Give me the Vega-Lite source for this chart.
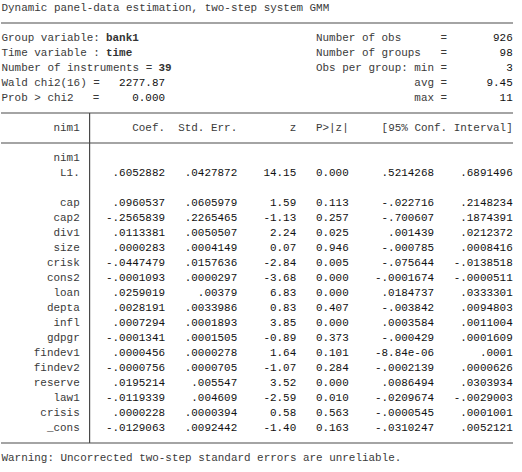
{
  "$schema": "https://vega.github.io/schema/vega-lite/v6.json",
  "description": "Stata output: dynamic panel-data estimation, two-step system GMM (niml).",
  "width": 512,
  "height": 472,
  "padding": 0,
  "background": "white",
  "datasets": {
    "info": [
      {"line": 0, "hcol": 1, "text": "Dynamic panel-data estimation, two-step system GMM"},
      {"line": 2, "hcol": 1, "text": "Group variable:"},
      {"line": 2, "hcol": 3, "text": "bank1"},
      {"line": 3, "hcol": 1, "text": "Time variable :"},
      {"line": 3, "hcol": 3, "text": "time"},
      {"line": 4, "hcol": 1, "text": "Number of instruments ="},
      {"line": 4, "hcol": 4, "text": "39"},
      {"line": 5, "hcol": 1, "text": "Wald chi2(16) ="},
      {"line": 5, "hcol": 5, "text": "2277.87"},
      {"line": 6, "hcol": 1, "text": "Prob > chi2"},
      {"line": 6, "hcol": 2, "text": "="},
      {"line": 6, "hcol": 5, "text": "0.000"},
      {"line": 2, "hcol": 6, "text": "Number of obs"},
      {"line": 2, "hcol": 8, "text": "="},
      {"line": 2, "hcol": 9, "text": "926"},
      {"line": 3, "hcol": 6, "text": "Number of groups"},
      {"line": 3, "hcol": 8, "text": "="},
      {"line": 3, "hcol": 9, "text": "98"},
      {"line": 4, "hcol": 6, "text": "Obs per group: min"},
      {"line": 4, "hcol": 8, "text": "="},
      {"line": 4, "hcol": 9, "text": "3"},
      {"line": 5, "hcol": 7, "text": "avg"},
      {"line": 5, "hcol": 8, "text": "="},
      {"line": 5, "hcol": 9, "text": "9.45"},
      {"line": 6, "hcol": 7, "text": "max"},
      {"line": 6, "hcol": 8, "text": "="},
      {"line": 6, "hcol": 9, "text": "11"},
      {"line": 30, "hcol": 1, "text": "Warning: Uncorrected two-step standard errors are unreliable."}
    ],
    "heads": [
      {"line": 8, "col": 1, "text": "nim1"},
      {"line": 8, "col": 3, "text": "Coef."},
      {"line": 8, "col": 4, "text": "Std. Err."},
      {"line": 8, "col": 5, "text": "z "},
      {"line": 8, "col": 6, "text": "P>|z|"},
      {"line": 8, "col": 8, "text": "[95% Conf. Interval]"},
      {"line": 10, "col": 1, "text": "nim1"},
      {"line": 11, "col": 1, "text": "L1."},
      {"line": 13, "col": 1, "text": "cap"},
      {"line": 14, "col": 1, "text": "cap2"},
      {"line": 15, "col": 1, "text": "div1"},
      {"line": 16, "col": 1, "text": "size"},
      {"line": 17, "col": 1, "text": "crisk"},
      {"line": 18, "col": 1, "text": "cons2"},
      {"line": 19, "col": 1, "text": "loan"},
      {"line": 20, "col": 1, "text": "depta"},
      {"line": 21, "col": 1, "text": "infl"},
      {"line": 22, "col": 1, "text": "gdpgr"},
      {"line": 23, "col": 1, "text": "findev1"},
      {"line": 24, "col": 1, "text": "findev2"},
      {"line": 25, "col": 1, "text": "reserve"},
      {"line": 26, "col": 1, "text": "law1"},
      {"line": 27, "col": 1, "text": "crisis"},
      {"line": 28, "col": 1, "text": "_cons"}
    ],
    "cells": [
      {"line": 11, "col": 3, "text": ".6052882"}, {"line": 11, "col": 4, "text": ".0427872"}, {"line": 11, "col": 5, "text": "14.15"},
      {"line": 11, "col": 6, "text": "0.000"}, {"line": 11, "col": 7, "text": ".5214268"}, {"line": 11, "col": 8, "text": ".6891496"},
      {"line": 13, "col": 3, "text": ".0960537"}, {"line": 13, "col": 4, "text": ".0605979"}, {"line": 13, "col": 5, "text": "1.59"},
      {"line": 13, "col": 6, "text": "0.113"}, {"line": 13, "col": 7, "text": "-.022716"}, {"line": 13, "col": 8, "text": ".2148234"},
      {"line": 14, "col": 3, "text": "-.2565839"}, {"line": 14, "col": 4, "text": ".2265465"}, {"line": 14, "col": 5, "text": "-1.13"},
      {"line": 14, "col": 6, "text": "0.257"}, {"line": 14, "col": 7, "text": "-.700607"}, {"line": 14, "col": 8, "text": ".1874391"},
      {"line": 15, "col": 3, "text": ".0113381"}, {"line": 15, "col": 4, "text": ".0050507"}, {"line": 15, "col": 5, "text": "2.24"},
      {"line": 15, "col": 6, "text": "0.025"}, {"line": 15, "col": 7, "text": ".001439"}, {"line": 15, "col": 8, "text": ".0212372"},
      {"line": 16, "col": 3, "text": ".0000283"}, {"line": 16, "col": 4, "text": ".0004149"}, {"line": 16, "col": 5, "text": "0.07"},
      {"line": 16, "col": 6, "text": "0.946"}, {"line": 16, "col": 7, "text": "-.000785"}, {"line": 16, "col": 8, "text": ".0008416"},
      {"line": 17, "col": 3, "text": "-.0447479"}, {"line": 17, "col": 4, "text": ".0157636"}, {"line": 17, "col": 5, "text": "-2.84"},
      {"line": 17, "col": 6, "text": "0.005"}, {"line": 17, "col": 7, "text": "-.075644"}, {"line": 17, "col": 8, "text": "-.0138518"},
      {"line": 18, "col": 3, "text": "-.0001093"}, {"line": 18, "col": 4, "text": ".0000297"}, {"line": 18, "col": 5, "text": "-3.68"},
      {"line": 18, "col": 6, "text": "0.000"}, {"line": 18, "col": 7, "text": "-.0001674"}, {"line": 18, "col": 8, "text": "-.0000511"},
      {"line": 19, "col": 3, "text": ".0259019"}, {"line": 19, "col": 4, "text": ".00379"}, {"line": 19, "col": 5, "text": "6.83"},
      {"line": 19, "col": 6, "text": "0.000"}, {"line": 19, "col": 7, "text": ".0184737"}, {"line": 19, "col": 8, "text": ".0333301"},
      {"line": 20, "col": 3, "text": ".0028191"}, {"line": 20, "col": 4, "text": ".0033986"}, {"line": 20, "col": 5, "text": "0.83"},
      {"line": 20, "col": 6, "text": "0.407"}, {"line": 20, "col": 7, "text": "-.003842"}, {"line": 20, "col": 8, "text": ".0094803"},
      {"line": 21, "col": 3, "text": ".0007294"}, {"line": 21, "col": 4, "text": ".0001893"}, {"line": 21, "col": 5, "text": "3.85"},
      {"line": 21, "col": 6, "text": "0.000"}, {"line": 21, "col": 7, "text": ".0003584"}, {"line": 21, "col": 8, "text": ".0011004"},
      {"line": 22, "col": 3, "text": "-.0001341"}, {"line": 22, "col": 4, "text": ".0001505"}, {"line": 22, "col": 5, "text": "-0.89"},
      {"line": 22, "col": 6, "text": "0.373"}, {"line": 22, "col": 7, "text": "-.000429"}, {"line": 22, "col": 8, "text": ".0001609"},
      {"line": 23, "col": 3, "text": ".0000456"}, {"line": 23, "col": 4, "text": ".0000278"}, {"line": 23, "col": 5, "text": "1.64"},
      {"line": 23, "col": 6, "text": "0.101"}, {"line": 23, "col": 7, "text": "-8.84e-06"}, {"line": 23, "col": 8, "text": ".0001"},
      {"line": 24, "col": 3, "text": "-.0000756"}, {"line": 24, "col": 4, "text": ".0000705"}, {"line": 24, "col": 5, "text": "-1.07"},
      {"line": 24, "col": 6, "text": "0.284"}, {"line": 24, "col": 7, "text": "-.0002139"}, {"line": 24, "col": 8, "text": ".0000626"},
      {"line": 25, "col": 3, "text": ".0195214"}, {"line": 25, "col": 4, "text": ".005547"}, {"line": 25, "col": 5, "text": "3.52"},
      {"line": 25, "col": 6, "text": "0.000"}, {"line": 25, "col": 7, "text": ".0086494"}, {"line": 25, "col": 8, "text": ".0303934"},
      {"line": 26, "col": 3, "text": "-.0119339"}, {"line": 26, "col": 4, "text": ".004609"}, {"line": 26, "col": 5, "text": "-2.59"},
      {"line": 26, "col": 6, "text": "0.010"}, {"line": 26, "col": 7, "text": "-.0209674"}, {"line": 26, "col": 8, "text": "-.0029003"},
      {"line": 27, "col": 3, "text": ".0000228"}, {"line": 27, "col": 4, "text": ".0000394"}, {"line": 27, "col": 5, "text": "0.58"},
      {"line": 27, "col": 6, "text": "0.563"}, {"line": 27, "col": 7, "text": "-.0000545"}, {"line": 27, "col": 8, "text": ".0001001"},
      {"line": 28, "col": 3, "text": "-.0129063"}, {"line": 28, "col": 4, "text": ".0092442"}, {"line": 28, "col": 5, "text": "-1.40"},
      {"line": 28, "col": 6, "text": "0.163"}, {"line": 28, "col": 7, "text": "-.0310247"}, {"line": 28, "col": 8, "text": ".0052121"}
    ],
    "hrules": [{"line": 1}, {"line": 7}, {"line": 9}, {"line": 29}],
    "vrule": [{"col": 2, "from": 7, "to": 29}]
  },
  "layer": [
    {
      "data": {"name": "hrules"},
      "mark": {"type": "rule", "color": "#4a4a4a", "strokeWidth": 1.2},
      "encoding": {
        "y": {"field": "line", "type": "quantitative", "axis": null,
              "scale": {"domain": [0, 30], "range": [8, 458], "nice": false, "zero": false}}
      }
    },
    {
      "data": {"name": "vrule"},
      "mark": {"type": "rule", "color": "#4a4a4a", "strokeWidth": 1.2},
      "encoding": {
        "x": {"field": "col", "type": "quantitative", "axis": null,
              "scale": {"domain": [1, 2, 3, 4, 5, 6, 7, 8], "range": [78.7, 88.6, 164, 236.2, 295.2, 347.7, 433, 511.7], "nice": false, "zero": false}},
        "y": {"field": "from", "type": "quantitative", "axis": null},
        "y2": {"field": "to"}
      }
    },
    {
      "data": {"name": "info"},
      "transform": [{"filter": {"field": "hcol", "oneOf": [1, 2, 6, 8]}}],
      "mark": {"type": "text", "align": "left"},
      "encoding": {
        "x": {"field": "hcol", "type": "quantitative", "axis": null,
              "scale": {"domain": [1, 2, 3, 4, 5, 6, 7, 8, 9], "range": [0.5, 91.8, 105, 157.4, 164, 315, 433, 439.5, 511.7], "nice": false, "zero": false}},
        "y": {"field": "line", "type": "quantitative", "axis": null},
        "text": {"field": "text"}
      }
    },
    {
      "data": {"name": "info"},
      "transform": [{"filter": {"field": "hcol", "oneOf": [3, 4]}}],
      "mark": {"type": "text", "align": "left", "fontWeight": "bold", "color": "#333"},
      "encoding": {
        "x": {"field": "hcol", "type": "quantitative", "axis": null,
              "scale": {"domain": [1, 2, 3, 4, 5, 6, 7, 8, 9], "range": [0.5, 91.8, 105, 157.4, 164, 315, 433, 439.5, 511.7], "nice": false, "zero": false}},
        "y": {"field": "line", "type": "quantitative", "axis": null},
        "text": {"field": "text"}
      }
    },
    {
      "data": {"name": "info"},
      "transform": [{"filter": {"field": "hcol", "oneOf": [7]}}],
      "mark": {"type": "text", "align": "right"},
      "encoding": {
        "x": {"field": "hcol", "type": "quantitative", "axis": null,
              "scale": {"domain": [1, 2, 3, 4, 5, 6, 7, 8, 9], "range": [0.5, 91.8, 105, 157.4, 164, 315, 433, 439.5, 511.7], "nice": false, "zero": false}},
        "y": {"field": "line", "type": "quantitative", "axis": null},
        "text": {"field": "text"}
      }
    },
    {
      "data": {"name": "info"},
      "transform": [{"filter": {"field": "hcol", "oneOf": [5, 9]}}],
      "mark": {"type": "text", "align": "right", "color": "#111"},
      "encoding": {
        "x": {"field": "hcol", "type": "quantitative", "axis": null,
              "scale": {"domain": [1, 2, 3, 4, 5, 6, 7, 8, 9], "range": [0.5, 91.8, 105, 157.4, 164, 315, 433, 439.5, 511.7], "nice": false, "zero": false}},
        "y": {"field": "line", "type": "quantitative", "axis": null},
        "text": {"field": "text"}
      }
    },
    {
      "data": {"name": "heads"},
      "mark": {"type": "text", "align": "right"},
      "encoding": {
        "x": {"field": "col", "type": "quantitative", "axis": null,
              "scale": {"domain": [1, 2, 3, 4, 5, 6, 7, 8], "range": [78.7, 88.6, 164, 236.2, 295.2, 347.7, 433, 511.7], "nice": false, "zero": false}},
        "y": {"field": "line", "type": "quantitative", "axis": null},
        "text": {"field": "text"}
      }
    },
    {
      "data": {"name": "cells"},
      "mark": {"type": "text", "align": "right", "color": "#111"},
      "encoding": {
        "x": {"field": "col", "type": "quantitative", "axis": null,
              "scale": {"domain": [1, 2, 3, 4, 5, 6, 7, 8], "range": [78.7, 88.6, 164, 236.2, 295.2, 347.7, 433, 511.7], "nice": false, "zero": false}},
        "y": {"field": "line", "type": "quantitative", "axis": null},
        "text": {"field": "text"}
      }
    }
  ],
  "resolve": {"scale": {"x": "independent"}},
  "config": {
    "view": {"stroke": null},
    "text": {"font": "Liberation Mono", "fontSize": 10.93, "baseline": "middle", "color": "#3a3a3a"}
  }
}
